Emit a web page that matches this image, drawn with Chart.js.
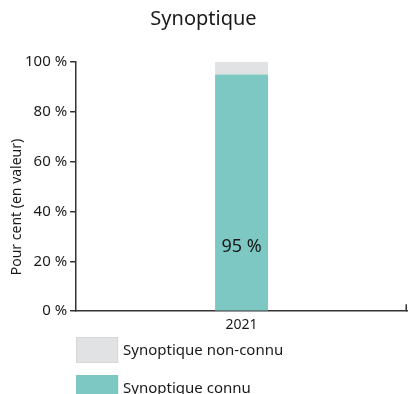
<!DOCTYPE html>
<html>
<head>
<meta charset="utf-8">
<script src="https://cdn.jsdelivr.net/npm/chart.js@4/dist/chart.umd.min.js"></script>
<style>
  html, body { margin: 0; padding: 0; background: #fff; }
  #wrap { width: 408px; height: 394px; }
</style>
</head>
<body>
<div id="wrap"><canvas id="c" width="408" height="394"></canvas></div>
<script>
const categories = ['2021'];
const knownShare = [95];
const unknownShare = [5];
const yTicks = [0, 20, 40, 60, 80, 100];
const yAxisTitle = 'Pour cent (en valeur)';

const FONT = '"Noto Sans", sans-serif';
const INK = '#1a1a1a';
const AXIS = '#333333';

const fmtPct = v => v + ' %';

// Value label inside the bar, axis title, bottom legend and the right end tick
const extras = {
  id: 'extras',
  afterDatasetsDraw(chart) {
    const ctx = chart.ctx;
    const meta = chart.getDatasetMeta(0);
    ctx.save();
    ctx.font = '18px ' + FONT;
    ctx.fillStyle = INK;
    ctx.textAlign = 'center';
    ctx.textBaseline = 'middle';
    meta.data.forEach((bar, i) => {
      const y = bar.base - (bar.base - bar.y) * 0.27;
      ctx.fillText(fmtPct(chart.data.datasets[0].data[i]), bar.x, y);
    });
    ctx.restore();
  },
  afterDraw(chart) {
    const ctx = chart.ctx;
    const area = chart.chartArea;
    ctx.save();
    // closing tick at the right end of the x axis
    ctx.strokeStyle = AXIS;
    ctx.lineWidth = 1.5;
    ctx.beginPath();
    ctx.moveTo(area.right - 0.75, area.bottom - 7);
    ctx.lineTo(area.right - 0.75, area.bottom);
    ctx.stroke();

    // rotated y axis title
    ctx.font = '14px ' + FONT;
    ctx.fillStyle = INK;
    ctx.textAlign = 'center';
    ctx.textBaseline = 'middle';
    ctx.save();
    ctx.translate(17, 207);
    ctx.rotate(-Math.PI / 2);
    ctx.fillText(yAxisTitle, 0, 0);
    ctx.restore();

    // legend, listed top-down in reverse stacking order
    const items = chart.data.datasets.slice().reverse();
    ctx.font = '15px ' + FONT;
    ctx.textAlign = 'left';
    items.forEach((ds, i) => {
      const y = 337 + i * 38;
      ctx.fillStyle = ds.backgroundColor;
      ctx.fillRect(area.left, y, 42, 26);
      ctx.strokeStyle = ds.borderColor;
      ctx.lineWidth = 1;
      ctx.strokeRect(area.left + 0.5, y + 0.5, 41, 25);
      ctx.fillStyle = INK;
      ctx.fillText(ds.label, area.left + 47, y + 14);
    });
    ctx.restore();
  }
};

new Chart(document.getElementById('c'), {
  type: 'bar',
  data: {
    labels: categories,
    datasets: [
      {
        label: 'Synoptique connu',
        data: knownShare,
        backgroundColor: '#7dc8c2',
        borderColor: '#7dc8c2',
        borderWidth: 0
      },
      {
        label: 'Synoptique non-connu',
        data: unknownShare,
        backgroundColor: '#e1e2e4',
        borderColor: '#d6d7d9',
        borderWidth: 0
      }
    ]
  },
  options: {
    responsive: false,
    animation: false,
    events: [],
    layout: { padding: { top: 0, right: 1, bottom: 64, left: 0 } },
    datasets: { bar: { barPercentage: 0.16, categoryPercentage: 1 } },
    plugins: {
      legend: { display: false },
      tooltip: { enabled: false },
      title: {
        display: true,
        text: 'Synoptique',
        color: INK,
        font: { family: FONT, size: 20, weight: 'normal' },
        padding: { top: 7, bottom: 31 }
      }
    },
    scales: {
      x: {
        stacked: true,
        grid: { display: false },
        border: { display: true, color: AXIS, width: 1.5 },
        ticks: { color: INK, font: { family: FONT, size: 14 }, padding: -3 }
      },
      y: {
        stacked: true,
        min: 0,
        max: 100,
        afterBuildTicks(scale) { scale.ticks = yTicks.map(v => ({ value: v })); },
        afterFit(scale) { scale.width += 22; },
        grid: { drawOnChartArea: false, drawTicks: true, tickLength: 6, color: AXIS, lineWidth: 1.5 },
        border: { display: true, color: AXIS, width: 1.5 },
        ticks: {
          color: INK,
          font: { family: FONT, size: 15 },
          padding: 3,
          callback: v => fmtPct(v)
        }
      }
    }
  },
  plugins: [extras]
});
</script>
</body>
</html>
